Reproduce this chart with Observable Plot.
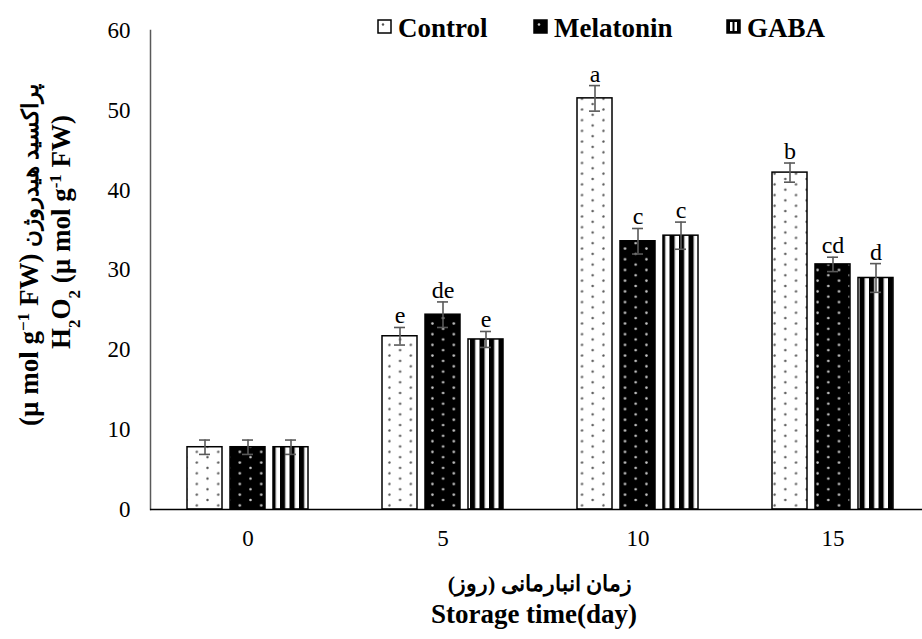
<!DOCTYPE html>
<html><head><meta charset="utf-8">
<script src="https://cdn.jsdelivr.net/npm/d3@7"></script>
<script src="https://cdn.jsdelivr.net/npm/@observablehq/plot@0.6"></script>
<style>
body{margin:0;background:#fff;}
#chart{width:922px;height:639px;overflow:hidden;}
</style>
</head><body><div id="chart"></div>
<script>
// ---- data ----
const days = ["0", "5", "10", "15"];
const treatments = ["Control", "Melatonin", "GABA"];
const control = [7.8, 21.7, 51.5, 42.2];
const melatonin = [7.8, 24.4, 33.6, 30.7];
const gaba = [7.8, 21.3, 34.3, 29.0];
const controlErr = [0.9, 1.1, 1.6, 1.2];
const melatoninErr = [0.9, 1.6, 1.6, 0.9];
const gabaErr = [0.9, 1.0, 1.7, 1.8];
const controlLetters = ["", "e", "a", "b"];
const melatoninLetters = ["", "de", "c", "cd"];
const gabaLetters = ["", "e", "c", "d"];
const yTicks = [0, 10, 20, 30, 40, 50, 60];

const series = {
  Control: {values: control, errs: controlErr, letters: controlLetters, fill: "url(#pat-control)"},
  Melatonin: {values: melatonin, errs: melatoninErr, letters: melatoninLetters, fill: "url(#pat-melatonin)"},
  GABA: {values: gaba, errs: gabaErr, letters: gabaLetters, fill: "url(#pat-gaba)"}
};
const rowsOf = (t) => days.map((d, i) => ({
  day: d, treatment: t, value: series[t].values[i], err: series[t].errs[i],
  lo: series[t].values[i] - series[t].errs[i], hi: series[t].values[i] + series[t].errs[i],
  letter: series[t].letters[i]
}));

const barW = 35, step = 43, band = 195, capW = 11;
const offsets = {Control: -step, Melatonin: 0, GABA: step};
const font = "'Liberation Serif', 'Times New Roman', 'DejaVu Serif', serif";

const marks = [];
for (const t of treatments) {
  const rows = rowsOf(t);
  const dx = offsets[t];
  marks.push(Plot.barY(rows, {x: "day", y: "value", fill: series[t].fill, stroke: "#000", strokeWidth: 1.5,
    insetLeft: (band - barW) / 2, insetRight: (band - barW) / 2, dx}));
}
for (const t of treatments) {
  const rows = rowsOf(t);
  const dx = offsets[t];
  marks.push(Plot.ruleX(rows, {x: "day", y1: "lo", y2: "hi", stroke: "#595959", strokeWidth: 1.6, dx}));
  marks.push(Plot.tickY(rows, {x: "day", y: "lo", stroke: "#595959", strokeWidth: 1.6, dx,
    insetLeft: (band - capW) / 2, insetRight: (band - capW) / 2}));
  marks.push(Plot.tickY(rows, {x: "day", y: "hi", stroke: "#595959", strokeWidth: 1.6, dx,
    insetLeft: (band - capW) / 2, insetRight: (band - capW) / 2}));
  marks.push(Plot.text(rows, {x: "day", y: "hi", text: "letter", dx, dy: -4, lineAnchor: "bottom",
    fontSize: 24, fill: "#000"}));
}

const plot = Plot.plot({
  width: 922, height: 639,
  marginLeft: 150, marginRight: -8, marginTop: 30, marginBottom: 130,
  style: {fontFamily: font, fontSize: "23px", color: "#000", background: "#fff", overflow: "visible"},
  x: {domain: days, padding: 0},
  y: {domain: [0, 60]},
  marks: [
    Plot.axisY({ticks: yTicks, tickSize: 0, tickPadding: 20, label: null, fontSize: 23, fill: "#000"}),
    Plot.axisX({tickSize: 0, tickPadding: 20, label: null, fontSize: 23, fill: "#000"}),
    Plot.frame({anchor: "left", stroke: "#595959", strokeWidth: 1.5}),
    ...marks,
    Plot.ruleY([0], {stroke: "#000", strokeWidth: 1.5})
  ]
});

// ---- patterns ----
const svg = d3.select(plot);
const defs = svg.insert("defs", ":first-child");
const pc = defs.append("pattern").attr("id", "pat-control").attr("patternUnits", "userSpaceOnUse")
  .attr("width", 21.4).attr("height", 10.7).attr("x", 196.5).attr("y", 0);
pc.append("rect").attr("width", 21.4).attr("height", 10.7).attr("fill", "#fff");
pc.append("circle").attr("cx", 0.5).attr("cy", 2.5).attr("r", 1.2).attr("fill", "#555");
pc.append("circle").attr("cx", 11.2).attr("cy", 7.8).attr("r", 1.2).attr("fill", "#555");
pc.append("circle").attr("cx", 21.9).attr("cy", 2.5).attr("r", 1.2).attr("fill", "#555");
const pm = defs.append("pattern").attr("id", "pat-melatonin").attr("patternUnits", "userSpaceOnUse")
  .attr("width", 21.4).attr("height", 10.7).attr("x", 196.5).attr("y", 0);
pm.append("rect").attr("width", 21.4).attr("height", 10.7).attr("fill", "#000");
pm.append("circle").attr("cx", 0.5).attr("cy", 2.5).attr("r", 1.3).attr("fill", "#c8c8c8");
pm.append("circle").attr("cx", 11.2).attr("cy", 7.8).attr("r", 1.3).attr("fill", "#c8c8c8");
pm.append("circle").attr("cx", 21.9).attr("cy", 2.5).attr("r", 1.3).attr("fill", "#c8c8c8");
const pg = defs.append("pattern").attr("id", "pat-gaba").attr("patternUnits", "userSpaceOnUse")
  .attr("width", 9.5).attr("height", 10).attr("x", 275).attr("y", 0);
pg.append("rect").attr("width", 9.5).attr("height", 10).attr("fill", "#fff");
pg.append("rect").attr("x", 0).attr("width", 5).attr("height", 10).attr("fill", "#000");
pg.append("rect").attr("x", 5).attr("width", 0.8).attr("height", 10).attr("fill", "#888");

// ---- legend ----
const legendX = [378, 534, 727];
const lg = svg.append("g").attr("font-family", font).attr("font-weight", "bold").attr("font-size", 27)
  .attr("text-anchor", "start");
treatments.forEach((t, i) => {
  const x0 = legendX[i], y0 = 20, s = 13;
  if (t === "Control") {
    lg.append("rect").attr("x", x0).attr("y", y0).attr("width", s).attr("height", s)
      .attr("fill", "#fff").attr("stroke", "#000").attr("stroke-width", 1.5);
    lg.append("circle").attr("cx", x0 + 5).attr("cy", y0 + 4.5).attr("r", 1.2).attr("fill", "#555");
  } else if (t === "Melatonin") {
    lg.append("rect").attr("x", x0).attr("y", y0).attr("width", s).attr("height", s)
      .attr("fill", "#000").attr("stroke", "#000").attr("stroke-width", 1.5);
    lg.append("circle").attr("cx", x0 + 5).attr("cy", y0 + 4.5).attr("r", 1.3).attr("fill", "#ccc");
  } else {
    lg.append("rect").attr("x", x0).attr("y", y0).attr("width", s).attr("height", s)
      .attr("fill", "#000").attr("stroke", "#000").attr("stroke-width", 1.5);
    lg.append("rect").attr("x", x0 + 3).attr("y", y0 + 2).attr("width", 2.5).attr("height", s - 4).attr("fill", "#fff");
    lg.append("rect").attr("x", x0 + 7.5).attr("y", y0 + 2).attr("width", 2.5).attr("height", s - 4).attr("fill", "#fff");
  }
  lg.append("text").attr("x", x0 + 20).attr("y", 37).attr("fill", "#000").text(t);
});

// ---- axis titles ----
const yl = svg.append("g").attr("font-family", font).attr("font-weight", "bold").attr("font-size", 27).attr("fill", "#000");
const t1 = yl.append("text").attr("transform", "translate(38,255) rotate(-90)").attr("text-anchor", "middle");
t1.append("tspan").text("(µ mol g");
t1.append("tspan").attr("baseline-shift", "super").attr("font-size", 17).text("−1");
t1.append("tspan").text(" FW) ");
t1.append("tspan").attr("font-size", 23).text("پراکسید هیدروژن");
const t2 = yl.append("text").attr("transform", "translate(70,232) rotate(-90)").attr("text-anchor", "middle");
t2.append("tspan").text("H");
t2.append("tspan").attr("baseline-shift", "sub").attr("font-size", 17).text("2");
t2.append("tspan").text("O");
t2.append("tspan").attr("baseline-shift", "sub").attr("font-size", 17).text("2");
t2.append("tspan").text(" (µ mol g");
t2.append("tspan").attr("baseline-shift", "super").attr("font-size", 17).text("-1");
t2.append("tspan").text(" FW)");

const xl = svg.append("g").attr("font-family", font).attr("font-weight", "bold").attr("fill", "#000");
xl.append("text").attr("x", 540).attr("y", 591).attr("text-anchor", "middle").attr("direction", "rtl")
  .attr("font-size", 22).text("زمان انبارمانی (روز)");
xl.append("text").attr("x", 534).attr("y", 623).attr("text-anchor", "middle").attr("font-size", 27)
  .text("Storage time(day)");

document.getElementById("chart").appendChild(plot);
</script>
</body></html>
